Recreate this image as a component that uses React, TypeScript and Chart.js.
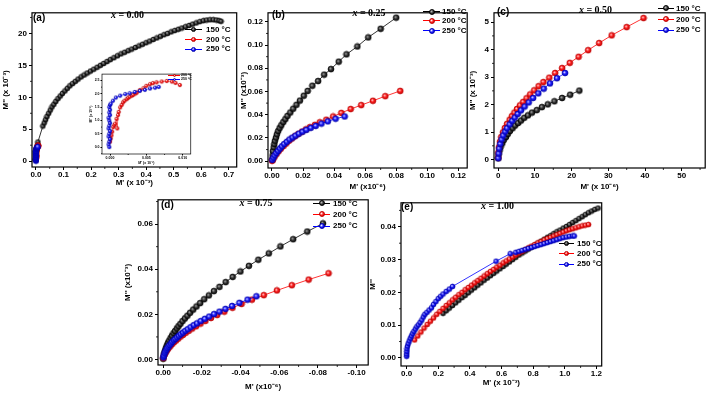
import React, { useEffect, useRef } from "react";
import { Chart, registerables } from "chart.js";
Chart.register(...registerables);

// ---------------- DATA ----------------
// Panel (a) x = 0.00  (M' x10^-3 , M'' x10^-3)
const aX150 = [0, 0.001, 0.002, 0.003, 0.005, 0.007, 0.025, 0.030, 0.035, 0.040, 0.046, 0.052, 0.058, 0.065, 0.072, 0.080, 0.088, 0.096, 0.105, 0.114, 0.123, 0.133, 0.143, 0.153, 0.164, 0.175, 0.186, 0.198, 0.210, 0.222, 0.234, 0.246, 0.258, 0.270, 0.283, 0.296, 0.309, 0.322, 0.335, 0.348, 0.361, 0.374, 0.387, 0.400, 0.413, 0.426, 0.439, 0.452, 0.465, 0.478, 0.491, 0.504, 0.517, 0.530, 0.543, 0.556, 0.569, 0.582, 0.595, 0.608, 0.620, 0.632, 0.644, 0.655, 0.665, 0.672];
const aY150 = [0.3, 0.9, 1.5, 2.0, 2.5, 3.0, 5.5, 6.0, 6.5, 7.0, 7.5, 8.0, 8.5, 8.9, 9.35, 9.8, 10.2, 10.6, 11.0, 11.4, 11.8, 12.15, 12.5, 12.85, 13.2, 13.5, 13.8, 14.1, 14.4, 14.7, 15.0, 15.3, 15.6, 15.9, 16.2, 16.5, 16.8, 17.05, 17.3, 17.55, 17.8, 18.05, 18.3, 18.55, 18.8, 19.05, 19.3, 19.55, 19.8, 20.0, 20.25, 20.45, 20.65, 20.85, 21.05, 21.25, 21.45, 21.65, 21.85, 22.0, 22.1, 22.15, 22.15, 22.1, 22.0, 21.9];
const aX200 = [0, 0.0001, 0.0002, 0.0003, 0.00045, 0.0006, 0.0007, 0.0009, 0.0010, 0.0011, 0.0012, 0.0014, 0.0016, 0.0018, 0.0020, 0.0023, 0.0025, 0.0027, 0.0030, 0.0032, 0.0035, 0.0037, 0.0041, 0.0046, 0.0050, 0.0055, 0.0059, 0.0064, 0.0071, 0.0078, 0.0085, 0.0090, 0.0096];
const aY200 = [0.20, 0.32, 0.44, 0.58, 0.75, 0.82, 0.88, 1.06, 0.70, 1.20, 1.32, 1.49, 1.58, 1.68, 1.74, 1.80, 1.85, 1.89, 1.93, 1.96, 2.01, 2.05, 2.14, 2.21, 2.30, 2.36, 2.40, 2.43, 2.46, 2.48, 2.46, 2.41, 2.33];
const aX250 = [-0.0001, -0.0002, -0.0001, 0, -0.0002, -0.0001, 0, -0.0002, -0.0001, 0, -0.0001, -0.0002, 0, -0.0001, 0, -0.0001, 0, 0.0001, 0.0004, 0.0008, 0.0014, 0.0021, 0.0027, 0.0034, 0.0041, 0.0048, 0.0055, 0.0062, 0.0067];
const aY250 = [0.00, 0.10, 0.20, 0.30, 0.40, 0.50, 0.60, 0.70, 0.80, 0.90, 1.00, 1.10, 1.20, 1.30, 1.40, 1.50, 1.58, 1.63, 1.74, 1.86, 1.93, 1.99, 2.02, 2.07, 2.11, 2.15, 2.20, 2.23, 2.26];
const aXTicks = [0, 0.1, 0.2, 0.3, 0.4, 0.5, 0.6, 0.7];
const aYTicks = [0, 5, 10, 15, 20];
const insetXTicks = [0, 0.005, 0.01];
const insetYTicks = [0, 0.5, 1.0, 1.5, 2.0, 2.5];

// Panel (b) x = 0.25
const bX150 = [0.0002, 0.0004, 0.0006, 0.0011, 0.0015, 0.0019, 0.0026, 0.0032, 0.004, 0.0049, 0.006, 0.0073, 0.0086, 0.010, 0.0118, 0.0137, 0.0158, 0.018, 0.0205, 0.023, 0.026, 0.0297, 0.0336, 0.038, 0.043, 0.048, 0.055, 0.062, 0.070, 0.080];
const bY150 = [0.0014, 0.005, 0.0087, 0.012, 0.0148, 0.0176, 0.0204, 0.0232, 0.026, 0.0285, 0.031, 0.0337, 0.0362, 0.039, 0.0419, 0.0452, 0.0486, 0.0522, 0.0564, 0.0605, 0.065, 0.069, 0.0745, 0.0793, 0.0857, 0.092, 0.0988, 0.1066, 0.114, 0.1236];
const bX200 = [0.0001, 0.0004, 0.0006, 0.0017, 0.003, 0.0043, 0.0058, 0.0075, 0.0092, 0.0109, 0.0128, 0.0148, 0.0169, 0.0193, 0.0218, 0.0244, 0.0276, 0.0308, 0.035, 0.0394, 0.0447, 0.0507, 0.0575, 0.065, 0.073, 0.0826];
const bY200 = [0.0003, 0.0010, 0.0017, 0.0039, 0.0064, 0.0087, 0.0109, 0.0131, 0.0153, 0.0176, 0.0195, 0.0215, 0.0234, 0.0254, 0.0274, 0.0293, 0.0313, 0.0335, 0.0357, 0.0385, 0.0416, 0.0449, 0.0483, 0.052, 0.056, 0.0605];
const bX250 = [0.0002, 0.0009, 0.0017, 0.0028, 0.0039, 0.0051, 0.0064, 0.0079, 0.0096, 0.0113, 0.0133, 0.0152, 0.0173, 0.0197, 0.0222, 0.025, 0.0282, 0.0319, 0.036, 0.041, 0.0468];
const bY250 = [0.0011, 0.003, 0.005, 0.007, 0.0089, 0.0109, 0.0128, 0.0148, 0.0167, 0.0187, 0.0204, 0.022, 0.0237, 0.0254, 0.027, 0.0287, 0.0304, 0.0324, 0.0343, 0.0366, 0.0385];
const bXTicks = [0, 0.02, 0.04, 0.06, 0.08, 0.10, 0.12];
const bYTicks = [0, 0.02, 0.04, 0.06, 0.08, 0.10, 0.12];

// Panel (c) x = 0.50
const cX150 = [0, 0.1, 0.36, 0.63, 1.1, 1.5, 2.1, 2.6, 3.2, 3.9, 4.6, 5.4, 6.2, 7.1, 8.1, 9.2, 10.5, 11.9, 13.5, 15.3, 17.4, 19.6, 22.1];
const cY150 = [0.05, 0.19, 0.33, 0.46, 0.59, 0.71, 0.82, 0.93, 1.04, 1.14, 1.24, 1.33, 1.42, 1.52, 1.61, 1.71, 1.8, 1.91, 2.01, 2.12, 2.24, 2.36, 2.51];
const cX200 = [0, 0, 0.18, 0.45, 0.8, 1.26, 1.8, 2.4, 3.1, 3.7, 4.4, 5.1, 5.9, 6.8, 7.7, 8.7, 9.8, 11.0, 12.3, 13.9, 15.5, 17.4, 19.5, 21.9, 24.5, 27.5, 30.9, 35.0, 39.6];
const cY200 = [0.07, 0.25, 0.45, 0.65, 0.82, 0.99, 1.15, 1.30, 1.45, 1.58, 1.71, 1.84, 1.97, 2.10, 2.23, 2.37, 2.52, 2.67, 2.82, 2.98, 3.15, 3.33, 3.52, 3.74, 3.98, 4.24, 4.52, 4.82, 5.15];
const cX250 = [0, 0.1, 0.27, 0.54, 0.9, 1.35, 1.9, 2.4, 3.1, 3.8, 4.5, 5.3, 6.2, 7.2, 8.3, 9.5, 10.9, 12.4, 14.1, 16.0, 18.2];
const cY250 = [0.05, 0.22, 0.40, 0.57, 0.73, 0.88, 1.02, 1.14, 1.28, 1.41, 1.53, 1.66, 1.79, 1.93, 2.08, 2.24, 2.41, 2.58, 2.77, 2.96, 3.15];
const cXTicks = [0, 10, 20, 30, 40, 50];
const cYTicks = [0, 1, 2, 3, 4, 5];

// Panel (d) x = 0.75
const dX150 = [0, -0.0002, -0.0005, -0.0009, -0.0014, -0.0019, -0.0025, -0.0031, -0.0038, -0.0045, -0.0053, -0.0061, -0.0070, -0.0079, -0.0089, -0.0100, -0.0112, -0.0125, -0.0139, -0.0155, -0.0172, -0.0191, -0.0212, -0.0236, -0.0262, -0.0291, -0.0323, -0.0359, -0.0399, -0.0443, -0.0492, -0.0546, -0.0606, -0.0672, -0.0745, -0.0826];
const dY150 = [0.0003, 0.0016, 0.0028, 0.0040, 0.0052, 0.0063, 0.0074, 0.0084, 0.0095, 0.0105, 0.0116, 0.0126, 0.0137, 0.0147, 0.0158, 0.0170, 0.0182, 0.0194, 0.0207, 0.0221, 0.0235, 0.0250, 0.0267, 0.0284, 0.0303, 0.0322, 0.0343, 0.0366, 0.0390, 0.0415, 0.0442, 0.0470, 0.0501, 0.0533, 0.0567, 0.0603];
const dX200 = [-0.0001, -0.0004, -0.0008, -0.0013, -0.0019, -0.0025, -0.0032, -0.0039, -0.0047, -0.0056, -0.0066, -0.0077, -0.0089, -0.0102, -0.0116, -0.0132, -0.0150, -0.0170, -0.0193, -0.0218, -0.0247, -0.0279, -0.0316, -0.0358, -0.0405, -0.0459, -0.0520, -0.0588, -0.0665, -0.0752, -0.0855];
const dY200 = [0.0006, 0.0016, 0.0024, 0.0032, 0.0040, 0.0047, 0.0055, 0.0062, 0.0069, 0.0077, 0.0084, 0.0092, 0.0101, 0.0109, 0.0118, 0.0127, 0.0137, 0.0147, 0.0159, 0.0171, 0.0184, 0.0197, 0.0212, 0.0229, 0.0246, 0.0265, 0.0285, 0.0306, 0.0329, 0.0354, 0.0382];
const dX250 = [-0.0001, -0.0003, -0.0007, -0.0011, -0.0016, -0.0021, -0.0027, -0.0033, -0.0040, -0.0047, -0.0055, -0.0063, -0.0072, -0.0081, -0.0091, -0.0102, -0.0114, -0.0127, -0.0142, -0.0158, -0.0175, -0.0194, -0.0215, -0.0238, -0.0263, -0.0291, -0.0322, -0.0356, -0.0394, -0.0436, -0.0482];
const dY250 = [0.0009, 0.0017, 0.0027, 0.0035, 0.0043, 0.0050, 0.0057, 0.0064, 0.0071, 0.0078, 0.0085, 0.0091, 0.0098, 0.0105, 0.0112, 0.0119, 0.0127, 0.0134, 0.0143, 0.0152, 0.0160, 0.0170, 0.0180, 0.0190, 0.0201, 0.0212, 0.0224, 0.0237, 0.0251, 0.0265, 0.0280];
const dXTicks = [0, -0.02, -0.04, -0.06, -0.08, -0.10];
const dYTicks = [0, 0.02, 0.04, 0.06];

// Panel (e) x = 1.00
const eX150 = [0.23, 0.25, 0.27, 0.29, 0.31, 0.33, 0.35, 0.37, 0.39, 0.41, 0.43, 0.45, 0.47, 0.49, 0.51, 0.53, 0.55, 0.57, 0.59, 0.61, 0.63, 0.65, 0.67, 0.69, 0.71, 0.73, 0.75, 0.77, 0.79, 0.81, 0.83, 0.85, 0.87, 0.89, 0.91, 0.93, 0.95, 0.97, 0.99, 1.01, 1.03, 1.05, 1.07, 1.09, 1.11, 1.13, 1.15, 1.17, 1.19, 1.21];
const eY150 = [0.0136, 0.0144, 0.0152, 0.0160, 0.0168, 0.0176, 0.0184, 0.0191, 0.0199, 0.0207, 0.0214, 0.0222, 0.0229, 0.0237, 0.0244, 0.0251, 0.0258, 0.0265, 0.0272, 0.0279, 0.0286, 0.0293, 0.0300, 0.0307, 0.0314, 0.0320, 0.0326, 0.0332, 0.0338, 0.0344, 0.0350, 0.0356, 0.0362, 0.0368, 0.0373, 0.0379, 0.0385, 0.0390, 0.0396, 0.0401, 0.0407, 0.0413, 0.0419, 0.0425, 0.0431, 0.0437, 0.0443, 0.0448, 0.0453, 0.0457];
const eX200 = [0.05, 0.07, 0.09, 0.11, 0.13, 0.15, 0.17, 0.19, 0.21, 0.23, 0.25, 0.27, 0.29, 0.31, 0.33, 0.35, 0.37, 0.39, 0.41, 0.43, 0.45, 0.47, 0.49, 0.51, 0.53, 0.55, 0.57, 0.59, 0.61, 0.63, 0.65, 0.67, 0.69, 0.71, 0.73, 0.75, 0.77, 0.79, 0.81, 0.83, 0.85, 0.87, 0.89, 0.91, 0.93, 0.95, 0.97, 0.99, 1.01, 1.03, 1.05, 1.07, 1.09, 1.11, 1.13, 1.15];
const eY200 = [0.0055, 0.0067, 0.0079, 0.0091, 0.0102, 0.0112, 0.0122, 0.0133, 0.0142, 0.0151, 0.0160, 0.0168, 0.0177, 0.0185, 0.0193, 0.0200, 0.0208, 0.0215, 0.0222, 0.0229, 0.0236, 0.0243, 0.0250, 0.0257, 0.0264, 0.0270, 0.0277, 0.0283, 0.0290, 0.0296, 0.0302, 0.0308, 0.0314, 0.0320, 0.0325, 0.0331, 0.0336, 0.0341, 0.0346, 0.0351, 0.0355, 0.0360, 0.0364, 0.0368, 0.0372, 0.0376, 0.0380, 0.0384, 0.0388, 0.0391, 0.0394, 0.0397, 0.0400, 0.0403, 0.0405, 0.0407];
const eX250 = [0, 0, 0.001, 0.002, 0.005, 0.01, 0.016, 0.023, 0.03, 0.038, 0.046, 0.055, 0.064, 0.074, 0.085, 0.096, 0.105, 0.115, 0.128, 0.142, 0.157, 0.17, 0.185, 0.2, 0.215, 0.23, 0.25, 0.27, 0.29, 0.565, 0.655, 0.69, 0.71, 0.73, 0.75, 0.77, 0.79, 0.81, 0.83, 0.85, 0.87, 0.89, 0.91, 0.93, 0.95, 0.97, 0.99, 1.01, 1.03, 1.05, 1.06];
const eY250 = [0.0005, 0.0012, 0.002, 0.0028, 0.0036, 0.0044, 0.0052, 0.006, 0.0067, 0.0074, 0.0081, 0.0088, 0.0095, 0.0101, 0.0108, 0.0116, 0.0125, 0.0133, 0.0139, 0.0146, 0.0153, 0.0163, 0.0172, 0.0181, 0.0188, 0.0195, 0.0203, 0.021, 0.0218, 0.0295, 0.0318, 0.0322, 0.0325, 0.0328, 0.0331, 0.0334, 0.0337, 0.034, 0.0343, 0.0346, 0.0349, 0.0352, 0.0355, 0.0358, 0.0361, 0.0364, 0.0367, 0.0369, 0.0371, 0.0372, 0.0372];
const eXTicks = [0, 0.2, 0.4, 0.6, 0.8, 1.0, 1.2];
const eYTicks = [0, 0.01, 0.02, 0.03, 0.04];

const legendLabels = ["150 °C", "200 °C", "250 °C"];

// ---------------- STYLE ----------------
const SANS = "'Liberation Sans', Arial, Helvetica, sans-serif";
const SERIF = "'Liberation Serif', 'Times New Roman', serif";

const C150 = { hi: "#bdbdbd", fill: "#3a3a3a", dark: "#000000", line: "#000000" };
const C200 = { hi: "#ffffff", fill: "#ff2020", dark: "#c00000", line: "#ff0000" };
const C250 = { hi: "#ffffff", fill: "#2020ff", dark: "#0000b0", line: "#0000ff" };

function sphere(col: any, d: number) {
  const s = Math.ceil(d) + 2;
  const c = document.createElement("canvas");
  c.width = s;
  c.height = s;
  const g = c.getContext("2d")!;
  const r = d / 2;
  const cx = s / 2;
  const cy = s / 2;
  const grad = g.createRadialGradient(cx - r * 0.3, cy - r * 0.3, 0, cx, cy, r);
  grad.addColorStop(0, col.hi);
  grad.addColorStop(0.5, col.fill);
  grad.addColorStop(1, col.dark);
  g.fillStyle = grad;
  g.beginPath();
  g.arc(cx, cy, r, 0, Math.PI * 2);
  g.fill();
  g.strokeStyle = col.dark;
  g.lineWidth = 0.6;
  g.stroke();
  return c;
}

type Ser = { xs: number[]; ys: number[]; col: any; order: number; label: string };
type Ax = { min: number; max: number; ticks: number[]; dec: number; title: string; reverse?: boolean };
type Cfg = {
  box: number[];
  yW: number;
  xH: number;
  padT: number;
  padR: number;
  x: Ax;
  y: Ax;
  series: Ser[];
  d: number;
  fs: number;
  tfs: number;
  tl: number;
  mtl: number;
  xPad: number;
  yPad: number;
  lw: number;
  frameW: number;
};

function minorVals(t: number[], min: number, max: number) {
  const out: number[] = [];
  for (let i = 0; i < t.length - 1; i++) out.push((t[i] + t[i + 1]) / 2);
  if (t.length > 1) {
    const st = t[1] - t[0];
    const a = t[0] - st / 2;
    const b = t[t.length - 1] + st / 2;
    if (a >= min && a <= max) out.push(a);
    if (b >= min && b <= max) out.push(b);
  }
  return out;
}

function ChartPanel({ cfg }: { cfg: Cfg }) {
  const ref = useRef<HTMLCanvasElement | null>(null);
  useEffect(() => {
    const font: any = { family: SANS, size: cfg.fs, weight: "bold", lineHeight: 1.2 };
    const tfont: any = { family: SANS, size: cfg.tfs, weight: "bold", lineHeight: 1.2 };
    const frame = {
      id: "frame",
      afterDatasetsDraw(chart: any) {
        const { ctx, chartArea: a, scales } = chart;
        ctx.save();
        ctx.strokeStyle = "#000";
        ctx.lineWidth = cfg.frameW;
        ctx.strokeRect(a.left, a.top, a.right - a.left, a.bottom - a.top);
        ctx.lineWidth = 0.8;
        ctx.beginPath();
        minorVals(cfg.x.ticks, cfg.x.min, cfg.x.max).forEach((v) => {
          const px = scales.x.getPixelForValue(v);
          ctx.moveTo(px, a.bottom);
          ctx.lineTo(px, a.bottom + cfg.mtl);
        });
        minorVals(cfg.y.ticks, cfg.y.min, cfg.y.max).forEach((v) => {
          const py = scales.y.getPixelForValue(v);
          ctx.moveTo(a.left, py);
          ctx.lineTo(a.left - cfg.mtl, py);
        });
        ctx.stroke();
        ctx.restore();
      },
    };
    const grid = { display: true, drawOnChartArea: false, drawTicks: true, tickLength: cfg.tl, color: "#000", lineWidth: 1 };
    const mkScale = (ax: Ax, horiz: boolean) => ({
      type: "linear",
      position: horiz ? "bottom" : "left",
      min: ax.min,
      max: ax.max,
      reverse: !!ax.reverse,
      afterBuildTicks: (s: any) => {
        s.ticks = ax.ticks.map((v) => ({ value: v }));
      },
      afterFit: (s: any) => {
        if (horiz) s.height = cfg.xH;
        else s.width = cfg.yW;
      },
      grid,
      border: { display: false },
      ticks: {
        font,
        color: "#000",
        padding: horiz ? cfg.xPad : cfg.yPad,
        maxRotation: 0,
        minRotation: 0,
        autoSkip: false,
        callback: (v: any) => Number(v).toFixed(ax.dec),
      },
      title: { display: true, text: ax.title, font: tfont, color: "#000", padding: 0 },
    });
    const chart = new Chart(ref.current as HTMLCanvasElement, {
      type: "scatter",
      data: {
        datasets: cfg.series.map((s) => ({
          label: s.label,
          data: s.xs.map((x, i) => ({ x, y: s.ys[i] })),
          showLine: true,
          borderColor: s.col.line,
          backgroundColor: s.col.fill,
          borderWidth: cfg.lw,
          pointStyle: sphere(s.col, cfg.d) as any,
          pointRadius: cfg.d / 2,
          pointHoverRadius: cfg.d / 2,
          order: s.order,
          tension: 0,
        })),
      },
      options: {
        animation: false,
        responsive: false,
        maintainAspectRatio: false,
        layout: { padding: { top: cfg.padT, right: cfg.padR, left: 0, bottom: 0 } },
        plugins: { legend: { display: false }, tooltip: { enabled: false } },
        scales: { x: mkScale(cfg.x, true) as any, y: mkScale(cfg.y, false) as any },
      },
      plugins: [frame],
    });
    return () => chart.destroy();
  }, []);
  const [l, t, w, h] = cfg.box;
  return (
    <canvas
      ref={ref}
      width={w}
      height={h}
      style={{ position: "absolute", left: l, top: t, width: w, height: h }}
    />
  );
}

const base = { padT: 2, padR: 2, d: 6, fs: 8, tfs: 8, tl: 3, mtl: 2, xPad: 0, yPad: 2, lw: 0.8, frameW: 1.2 };

const cfgA: Cfg = {
  ...base,
  d: 5,
  box: [1, 6, 239, 182],
  yW: 31,
  xH: 21,
  x: { min: -0.0144, max: 0.7289, ticks: aXTicks, dec: 1, title: "M' (x 10⁻³)" },
  y: { min: -0.911, max: 23.23, ticks: aYTicks, dec: 0, title: "M'' (x 10⁻³)" },
  series: [
    { xs: aX150, ys: aY150, col: C150, order: 3, label: legendLabels[0] },
    { xs: aX200, ys: aY200, col: C200, order: 2, label: legendLabels[1] },
    { xs: aX250, ys: aY250, col: C250, order: 1, label: legendLabels[2] },
  ],
};

const cfgInset: Cfg = {
  ...base,
  d: 3.5,
  fs: 3.5,
  tfs: 3.5,
  tl: 1.5,
  mtl: 1,
  xPad: 0.5,
  yPad: 1,
  lw: 0.5,
  frameW: 0.7,
  box: [89, 71, 104, 94],
  yW: 13,
  xH: 11,
  x: { min: -0.0011, max: 0.0111, ticks: insetXTicks, dec: 3, title: "M' (x 10⁻³)" },
  y: { min: -0.26, max: 2.74, ticks: insetYTicks, dec: 1, title: "M'' (x 10⁻³)" },
  series: [
    { xs: aX200, ys: aY200, col: C200, order: 2, label: legendLabels[1] },
    { xs: aX250, ys: aY250, col: C250, order: 1, label: legendLabels[2] },
  ],
};

const cfgB: Cfg = {
  ...base,
  box: [239, 6, 232, 186],
  yW: 29,
  xH: 24,
  x: { min: -0.00255, max: 0.12574, ticks: bXTicks, dec: 2, title: "M' (x10⁻⁶)" },
  y: { min: -0.00585, max: 0.12777, ticks: bYTicks, dec: 2, title: "M'' (x10⁻³)" },
  series: [
    { xs: bX150, ys: bY150, col: C150, order: 3, label: legendLabels[0] },
    { xs: bX200, ys: bY200, col: C200, order: 2, label: legendLabels[1] },
    { xs: bX250, ys: bY250, col: C250, order: 1, label: legendLabels[2] },
  ],
};

const cfgC: Cfg = {
  ...base,
  box: [468, 6, 241, 186],
  yW: 26,
  xH: 24,
  x: { min: -1.16, max: 56.4, ticks: cXTicks, dec: 0, title: "M' (x 10⁻⁶)" },
  y: { min: -0.307, max: 5.34, ticks: cYTicks, dec: 0, title: "M'' (x 10⁻³)" },
  series: [
    { xs: cX150, ys: cY150, col: C150, order: 3, label: legendLabels[0] },
    { xs: cX200, ys: cY200, col: C200, order: 2, label: legendLabels[1] },
    { xs: cX250, ys: cY250, col: C250, order: 1, label: legendLabels[2] },
  ],
};

const cfgD: Cfg = {
  ...base,
  box: [123, 193, 249, 199],
  yW: 35,
  xH: 27,
  x: { min: -0.106, max: 0.0027, ticks: dXTicks, dec: 2, title: "M' (x10⁻⁶)", reverse: true },
  y: { min: -0.00245, max: 0.07077, ticks: dYTicks, dec: 2, title: "M'' (x10⁻³)" },
  series: [
    { xs: dX150, ys: dY150, col: C150, order: 3, label: legendLabels[0] },
    { xs: dX200, ys: dY200, col: C200, order: 2, label: legendLabels[1] },
    { xs: dX250, ys: dY250, col: C250, order: 1, label: legendLabels[2] },
  ],
};

const cfgE: Cfg = {
  ...base,
  d: 5,
  box: [368, 196, 237, 192],
  yW: 33,
  xH: 22,
  x: { min: -0.0358, max: 1.2333, ticks: eXTicks, dec: 1, title: "M' (x 10⁻³)" },
  y: { min: -0.00246, max: 0.04732, ticks: eYTicks, dec: 2, title: "M''" },
  series: [
    { xs: eX150, ys: eY150, col: C150, order: 3, label: legendLabels[0] },
    { xs: eX200, ys: eY200, col: C200, order: 2, label: legendLabels[1] },
    { xs: eX250, ys: eY250, col: C250, order: 1, label: legendLabels[2] },
  ],
};

// ---------------- OVERLAY TEXT ----------------
function Txt({ x, y, fs, children, family = SANS, center = false }: any) {
  return (
    <div
      style={{
        position: "absolute",
        left: x,
        top: y - fs * 0.6,
        fontSize: fs,
        lineHeight: `${fs * 1.2}px`,
        fontFamily: family,
        fontWeight: "bold",
        color: "#000",
        whiteSpace: "nowrap",
        transform: center ? "translateX(-50%)" : undefined,
      }}
    >
      {children}
    </div>
  );
}

function Comp({ x, y, v }: any) {
  return (
    <Txt x={x} y={y} fs={10} family={SERIF} center>
      <i>x</i> = {v}
    </Txt>
  );
}

function Leg({ x1, x2, tx, ys, fs = 8, d = 6, cols, labels }: any) {
  return (
    <>
      {ys.map((y: number, i: number) => {
        const col = cols[i];
        const mx = (x1 + x2) / 2;
        return (
          <React.Fragment key={i}>
            <div style={{ position: "absolute", left: x1, top: y - 0.5, width: x2 - x1, height: 1, background: col.line }} />
            <div
              style={{
                position: "absolute",
                left: mx - d / 2,
                top: y - d / 2,
                width: d,
                height: d,
                borderRadius: "50%",
                boxSizing: "border-box",
                border: `0.6px solid ${col.dark}`,
                background: `radial-gradient(circle at 35% 35%, ${col.hi} 0%, ${col.fill} 50%, ${col.dark} 100%)`,
              }}
            />
            <Txt x={tx} y={y} fs={fs}>
              {labels[i]}
            </Txt>
          </React.Fragment>
        );
      })}
    </>
  );
}

const cols3 = [C150, C200, C250];

export default function App() {
  return (
    <div
      style={{
        position: "absolute",
        left: 0,
        top: 0,
        width: 709,
        height: 394,
        background: "#fff",
        overflow: "hidden",
      }}
    >
      <ChartPanel cfg={cfgA} />
      <ChartPanel cfg={cfgB} />
      <ChartPanel cfg={cfgC} />
      <ChartPanel cfg={cfgD} />
      <ChartPanel cfg={cfgE} />
      <ChartPanel cfg={cfgInset} />

      <Txt x={33} y={18} fs={10}>(a)</Txt>
      <Txt x={272} y={15} fs={10}>(b)</Txt>
      <Txt x={497} y={12} fs={10}>(c)</Txt>
      <Txt x={161} y={205} fs={10}>(d)</Txt>
      <Txt x={401} y={207} fs={10}>(e)</Txt>

      <Comp x={127.5} y={15} v="0.00" />
      <Comp x={369} y={13} v="0.25" />
      <Comp x={595.5} y={10} v="0.50" />
      <Comp x={256} y={203} v="0.75" />
      <Comp x={497.5} y={206} v="1.00" />

      <Leg x1={185} x2={202} tx={206} ys={[29.3, 39.3, 49]} d={5} cols={cols3} labels={legendLabels} />
      <Leg x1={423} x2={440} tx={442} ys={[11.7, 20.7, 30.7]} cols={cols3} labels={legendLabels} />
      <Leg x1={658} x2={674} tx={676} ys={[8.3, 19.3, 30]} cols={cols3} labels={legendLabels} />
      <Leg x1={313} x2={330} tx={333} ys={[203.3, 214.3, 226]} cols={cols3} labels={legendLabels} />
      <Leg x1={559} x2={574} tx={577} ys={[243.3, 253.3, 264]} d={5} cols={cols3} labels={legendLabels} />
      <Leg x1={168} x2={180} tx={181} ys={[75, 79.5]} fs={3.5} d={3} cols={[C200, C250]} labels={[legendLabels[1], legendLabels[2]]} />
    </div>
  );
}
